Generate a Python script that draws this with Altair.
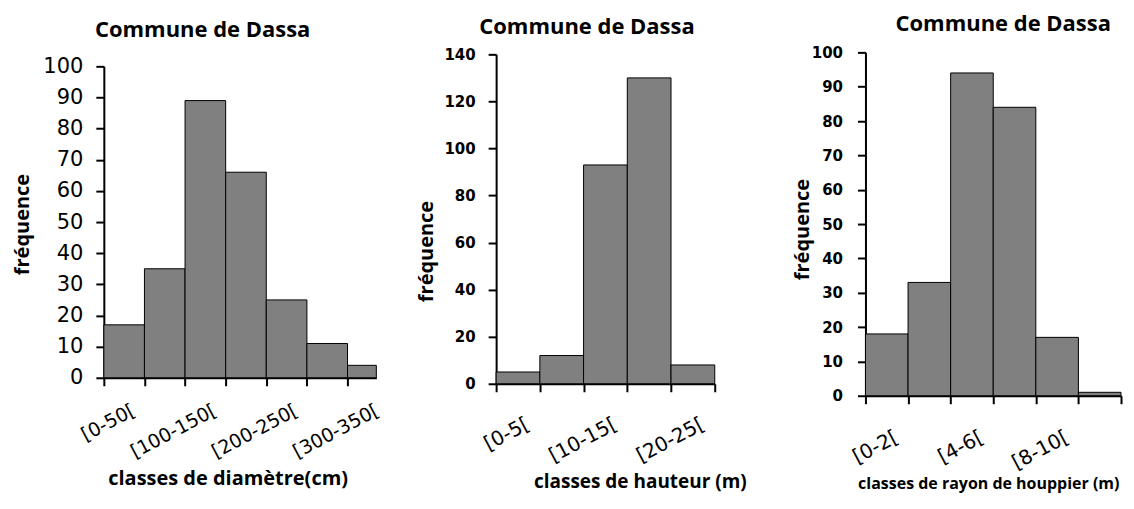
import altair as alt
import pandas as pd

# ---- data ----
diam_classes = ["[0-50[", "[50-100[", "[100-150[", "[150-200[", "[200-250[", "[250-300[", "[300-350["]
diam_freq = [17, 35, 89, 66, 25, 11, 4]

haut_classes = ["[0-5[", "[5-10[", "[10-15[", "[15-20[", "[20-25["]
haut_freq = [5, 12, 93, 130, 8]

rayon_classes = ["[0-2[", "[2-4[", "[4-6[", "[6-8[", "[8-10[", "[10-12["]
rayon_freq = [18, 33, 94, 84, 17, 1]

y_ticks_diam = [0, 10, 20, 30, 40, 50, 60, 70, 80, 90, 100]
y_ticks_haut = [0, 20, 40, 60, 80, 100, 120, 140]
y_ticks_rayon = [0, 10, 20, 30, 40, 50, 60, 70, 80, 90, 100]

chart_title = "Commune de Dassa"
y_title = "fréquence"
x_title_diam = "classes de diamètre(cm)"
x_title_haut = "classes de hauteur (m)"
x_title_rayon = "classes de rayon de houppier (m)"

TITLE_FONT = "Open Sans"


def panel(classes, freq, x_title, y_ticks, ymax, xmax, x_px, view_w, view_h, y_top,
          ylab_font_size, ylab_weight, ylab_pad, ytitle_x, ytitle_y,
          xlab_font_size, xlab_pad, xtitle_x, xtitle_y, xtitle_size,
          title_dx, title_offset):
    df = pd.DataFrame({"classe": classes, "freq": freq})
    df["start"] = list(range(len(classes)))
    df["end"] = df["start"] + 1

    labeled = [i for i in range(len(classes)) if i % 2 == 0]
    n_ticks = int(xmax) + 1
    tick_vals = [float(i) for i in range(n_ticks)]
    label_vals = [i + 0.5 for i in labeled]
    expr = "''"
    for i in reversed(labeled):
        expr = f"datum.value == {i + 0.5} ? '{classes[i]}' : ({expr})"

    is_tick = "datum.value % 1 == 0"
    x_axis = alt.Axis(
        values=sorted(tick_vals + label_vals),
        labelExpr=expr,
        tickOpacity={"condition": {"test": is_tick, "value": 1}, "value": 0},
        labelFontSize={"condition": {"test": is_tick, "value": 0}, "value": xlab_font_size},
        tickSize=8, tickWidth=2, tickColor="black",
        domainColor="black", domainWidth=2,
        labelAngle=332, labelAlign="right", labelBaseline="top",
        labelOffset=5, labelPadding=xlab_pad,
        labelFont="DejaVu Sans", labelColor="black",
        labelOverlap=False, labelFlush=False, labelBound=False,
        grid=False,
        title=x_title, titleFont=TITLE_FONT, titleFontWeight="bold",
        titleFontSize=xtitle_size, titleColor="black",
        titleX=xtitle_x, titleY=xtitle_y, titleAlign="center", titleBaseline="middle",
    )
    y_axis = alt.Axis(
        values=y_ticks,
        tickSize=8, tickWidth=2, tickColor="black",
        domainColor="black", domainWidth=2,
        labelFont="DejaVu Sans", labelFontSize=ylab_font_size, labelFontWeight=ylab_weight,
        labelColor="black", labelPadding=ylab_pad, labelOverlap=False,
        grid=False,
        title=y_title, titleFont=TITLE_FONT, titleFontWeight="bold", titleFontSize=20,
        titleColor="black", titleX=ytitle_x, titleY=ytitle_y, titleAlign="center",
        titleBaseline="bottom", titleAngle=270,
    )

    bars = alt.Chart(df).mark_rect(
        color="#808080", stroke="black", strokeWidth=1
    ).encode(
        x=alt.X("start:Q",
                scale=alt.Scale(domain=[0, xmax], range=[0, x_px], nice=False, zero=False, clamp=True),
                axis=x_axis),
        x2="end:Q",
        y=alt.Y("freq:Q",
                scale=alt.Scale(domain=[0, ymax], range=[view_h, y_top], nice=False, zero=True),
                axis=y_axis),
        y2=alt.datum(0),
    ).properties(
        width=view_w, height=view_h,
        title=alt.TitleParams(
            text=chart_title, anchor="start", align="center", frame="group",
            dx=title_dx, offset=title_offset,
            font=TITLE_FONT, fontSize=22, fontWeight="bold", color="black",
        ),
    )
    return bars


p1 = panel(diam_classes, diam_freq, x_title_diam, y_ticks_diam, 100, 6.71, 273, 393, 326, 14,
           21, "normal", 13, -71, 172,
           19, 15, 124, 101, 20,
           99, 10)
p2 = panel(haut_classes, haut_freq, x_title_haut, y_ticks_haut, 140, 5, 219, 370, 332, 2,
           15, "bold", 13, -60, 199,
           20, 22, 144, 98, 19,
           91, 8)
p3 = panel(rayon_classes, rayon_freq, x_title_rayon, y_ticks_rayon, 100, 6, 256, 256, 344, 0,
           15, "bold", 15, -53, 177,
           20, 23, 123, 88, 16,
           138, 9)

chart = alt.hconcat(p1, p2, p3, spacing=0, bounds="flush").properties(
    padding={"left": 5, "top": 5, "right": 0, "bottom": 4},
    background="white",
).configure_view(stroke=None)

chart.save("out.html", embed_options={"renderer": "svg", "actions": False})
